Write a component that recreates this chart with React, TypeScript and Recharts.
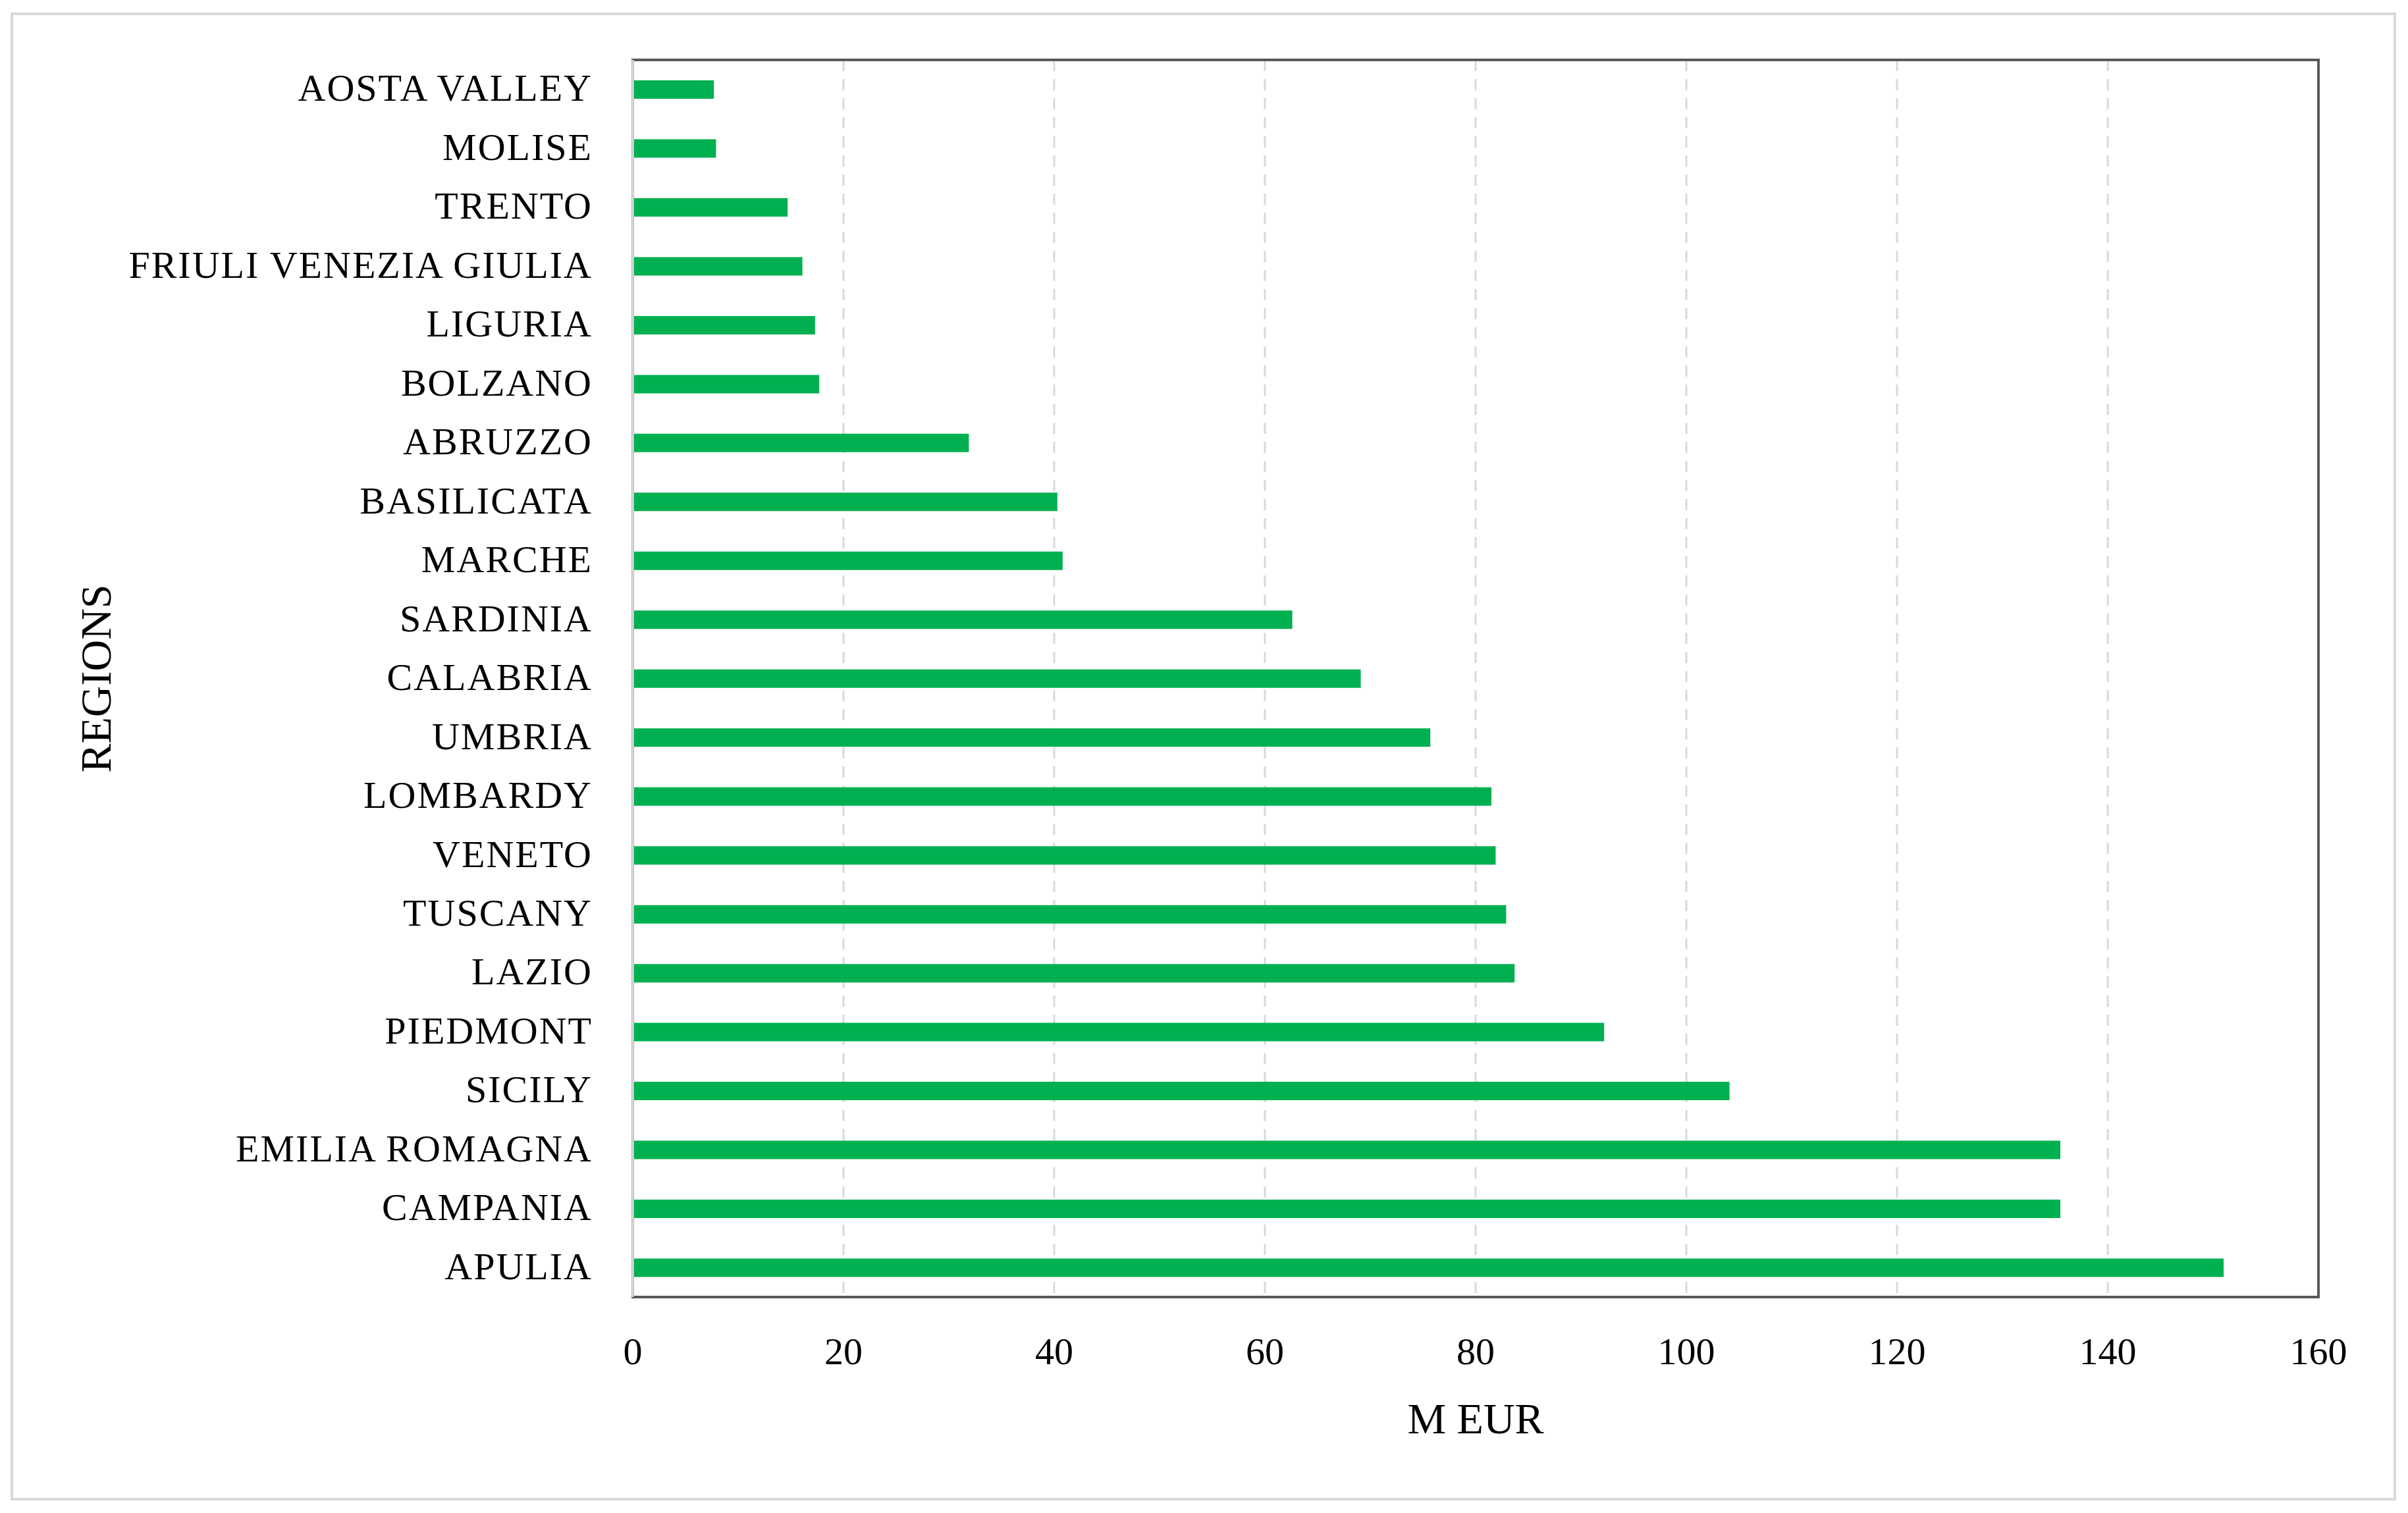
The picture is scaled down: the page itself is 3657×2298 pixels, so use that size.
import { Bar, BarChart, CartesianGrid, ReferenceArea, ReferenceLine, XAxis, YAxis } from "recharts";

// regions, top to bottom as they appear in the figure
const regions = [
  "AOSTA VALLEY",
  "MOLISE",
  "TRENTO",
  "FRIULI VENEZIA GIULIA",
  "LIGURIA",
  "BOLZANO",
  "ABRUZZO",
  "BASILICATA",
  "MARCHE",
  "SARDINIA",
  "CALABRIA",
  "UMBRIA",
  "LOMBARDY",
  "VENETO",
  "TUSCANY",
  "LAZIO",
  "PIEDMONT",
  "SICILY",
  "EMILIA ROMAGNA",
  "CAMPANIA",
  "APULIA",
];

// M EUR per region
const amounts = [
  7.7, 7.9, 14.7, 16.1, 17.3, 17.7, 31.9, 40.3, 40.8, 62.6, 69.1, 75.7, 81.5, 81.9, 82.9,
  83.7, 92.2, 104.1, 135.5, 135.5, 151.0,
];

const xTicks = [0, 20, 40, 60, 80, 100, 120, 140, 160];

const data = regions.map((region, i) => ({ region, value: amounts[i] }));

const FONT = '"Liberation Serif", "Times New Roman", serif';
const GREEN = "#00B050";
const DARK = "#595959";
const LIGHT = "#d9d9d9";

// titre axe X
const XTitle = ({ viewBox }: any) => {
  const { x, y, width, height } = viewBox;
  return (
    <text x={x + width / 2} y={y + height - 13} textAnchor="middle" fontFamily={FONT} fontSize={66} fill="#000">
      M EUR
    </text>
  );
};

// titre axe Y (rotated)
const YTitle = ({ viewBox }: any) => {
  const { x, y, height } = viewBox;
  const cx = x + 107;
  const cy = y + height / 2;
  return (
    <text
      x={cx}
      y={cy}
      transform={`rotate(-90 ${cx} ${cy})`}
      textAnchor="middle"
      fontFamily={FONT}
      fontSize={66}
      fill="#000"
    >
      REGIONS
    </text>
  );
};

export default function App() {
  return (
    <div style={{ position: "absolute", left: 0, top: 0, width: 3657, height: 2298, background: "#fff" }}>
      <div
        style={{
          position: "absolute",
          left: 16,
          top: 19,
          width: 3623,
          height: 2260,
          border: `4px solid ${LIGHT}`,
          boxSizing: "border-box",
        }}
      />
      <div style={{ position: "absolute", left: 0, top: 0 }}>
        <BarChart
          width={3657}
          height={2298}
          data={data}
          layout="vertical"
          margin={{ top: 91, right: 136, left: 61, bottom: 108 }}
          barCategoryGap={0}
        >
          <CartesianGrid horizontal={false} stroke={LIGHT} strokeWidth={3} strokeDasharray="17 12" />
          <XAxis
            type="number"
            domain={[0, 160]}
            ticks={xTicks}
            interval={0}
            height={220}
            axisLine={{ stroke: DARK, strokeWidth: 4 }}
            tickLine={false}
            tickSize={0}
            tickMargin={61}
            tick={{ fontFamily: FONT, fontSize: 58, fill: "#000" }}
            label={<XTitle />}
          />
          <YAxis
            type="category"
            dataKey="region"
            width={900}
            interval={0}
            axisLine={{ stroke: LIGHT, strokeWidth: 3 }}
            tickLine={false}
            tickSize={0}
            tickMargin={61}
            tick={{ fontFamily: FONT, fontSize: 58, fill: "#000", dy: -3, letterSpacing: 2 }}
            label={<YTitle />}
          />
          {/* cadre du graphique : haut et droite foncés */}
          <ReferenceArea x1={0} x2={160} fill="none" stroke={DARK} strokeWidth={4} ifOverflow="visible" />
          <ReferenceLine x={0} stroke={LIGHT} strokeWidth={3} />
          <Bar dataKey="value" fill={GREEN} barSize={28} isAnimationActive={false} />
        </BarChart>
      </div>
    </div>
  );
}
